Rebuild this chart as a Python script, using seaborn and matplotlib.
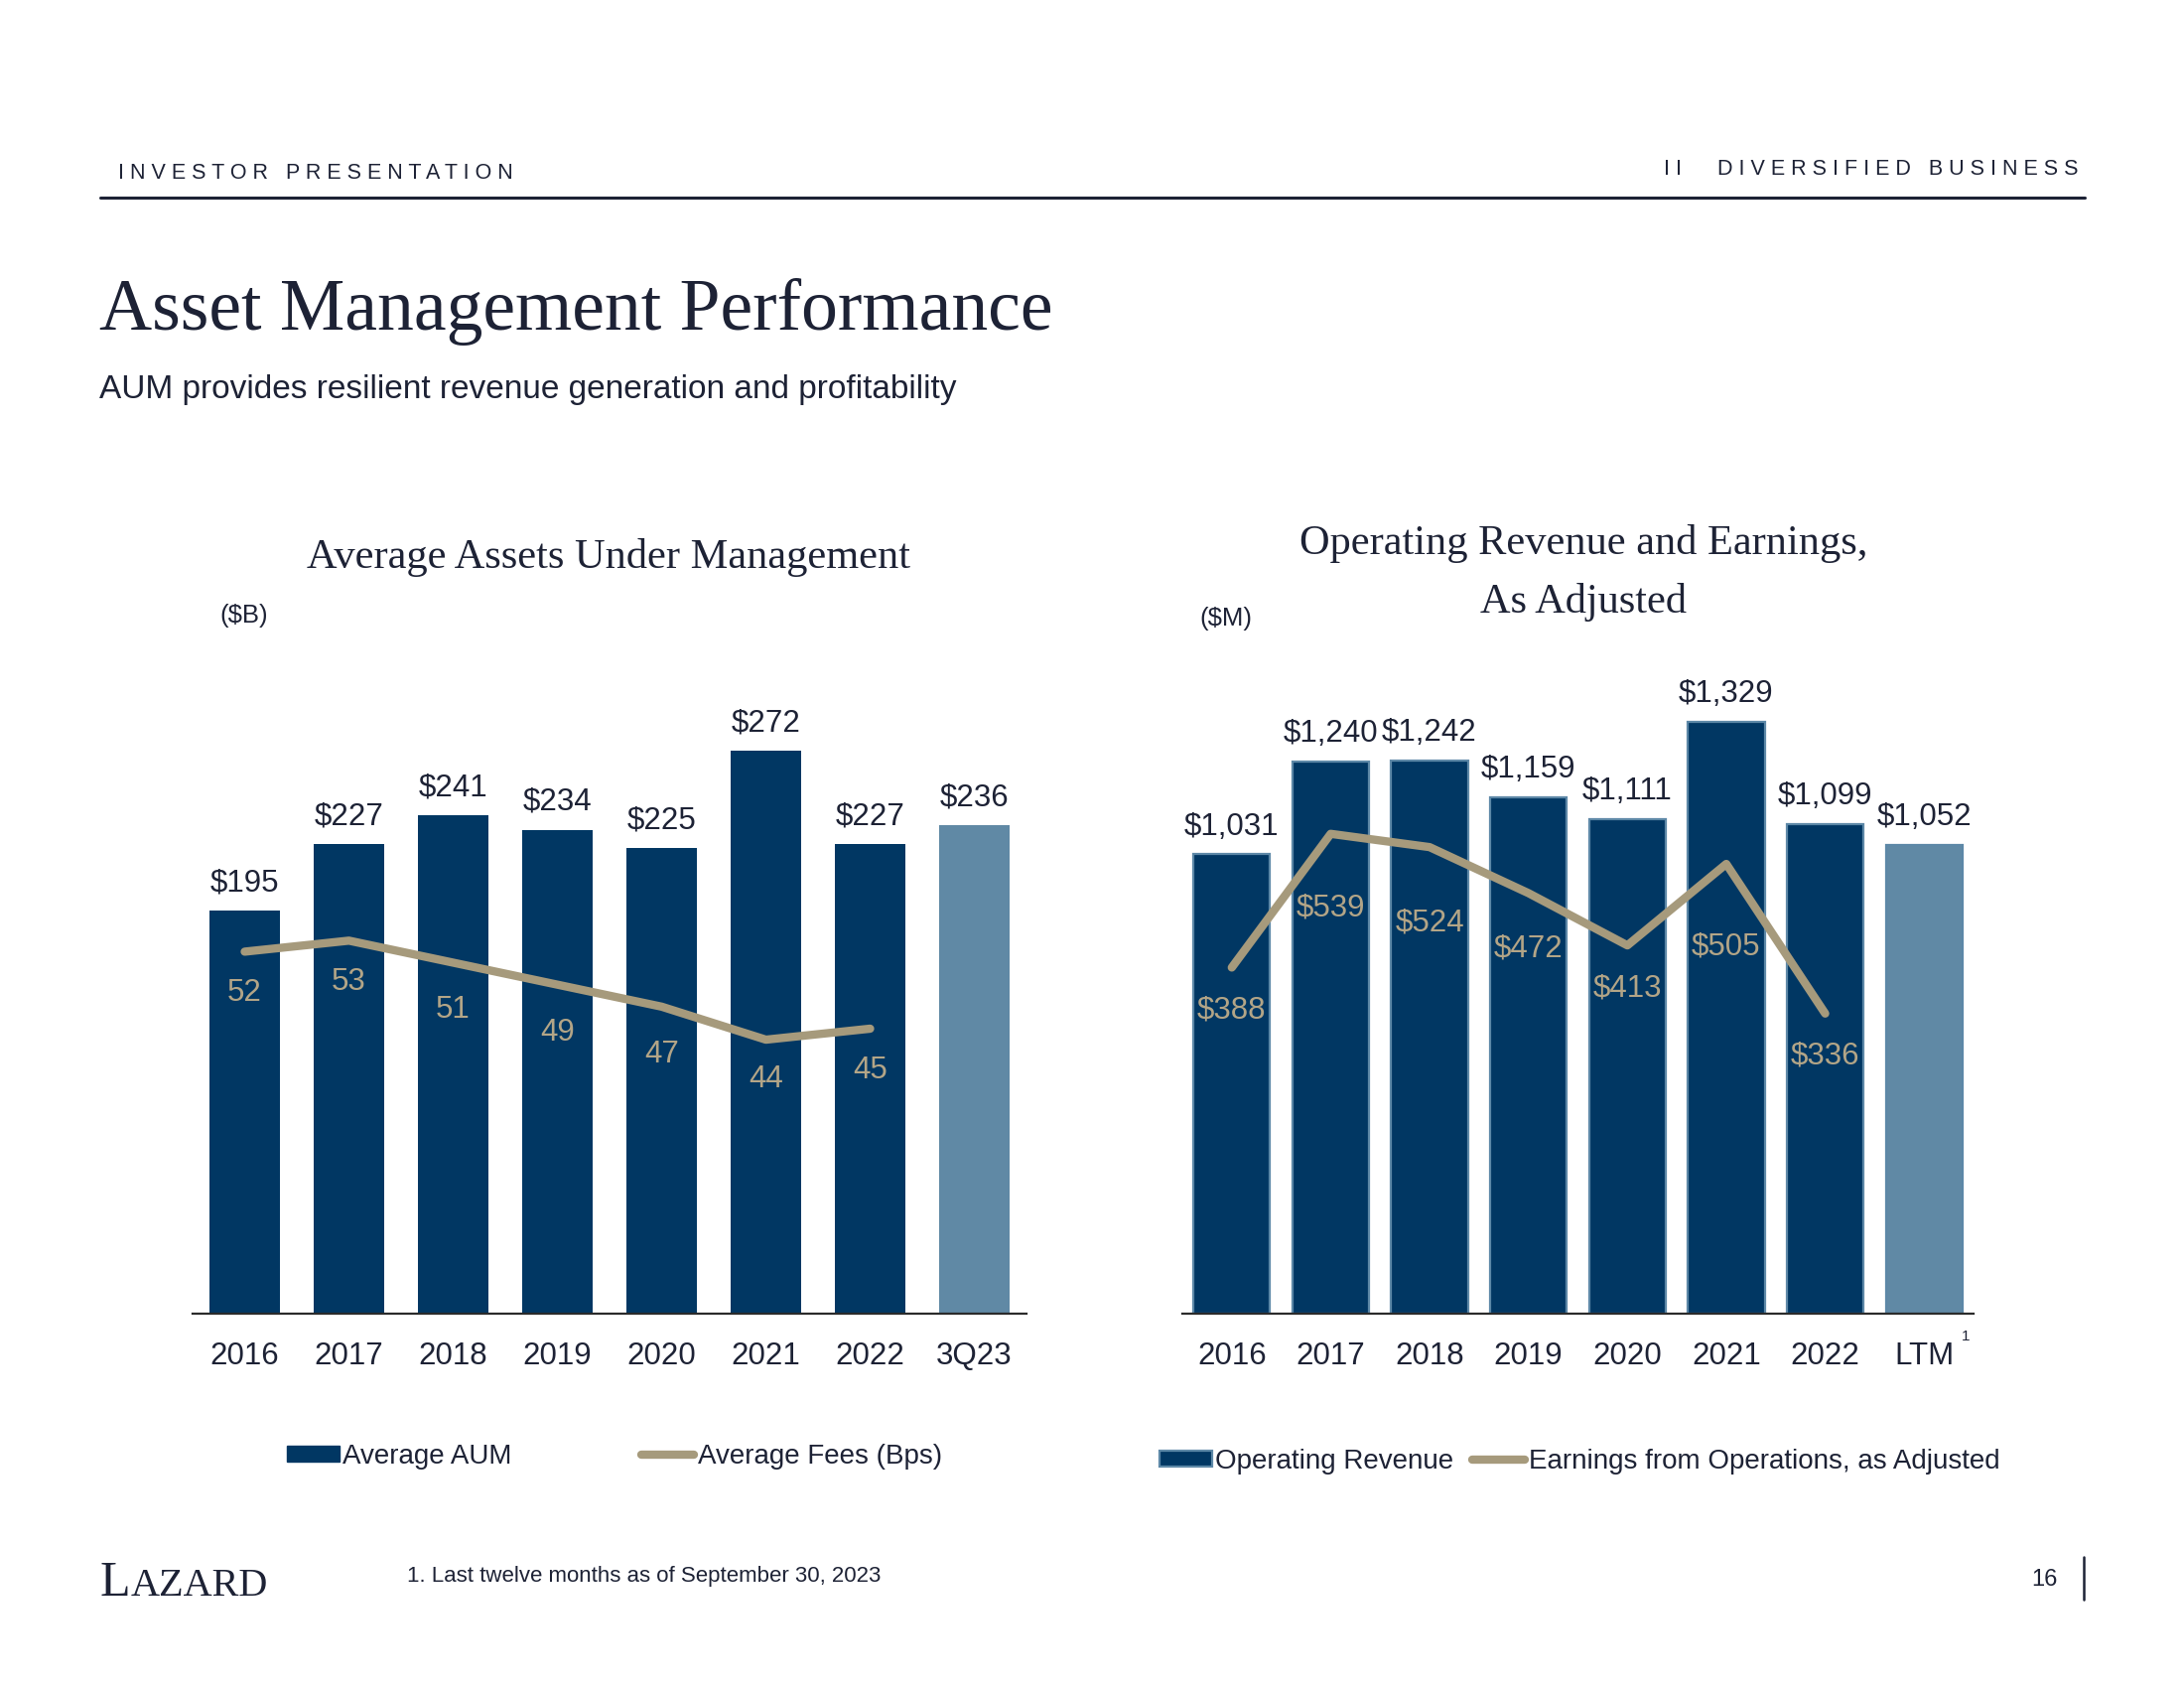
import numpy as np
import matplotlib
matplotlib.use("Agg")
import matplotlib.pyplot as plt
import seaborn as sns
from matplotlib.patches import Patch
from matplotlib.lines import Line2D

# Left panel: average AUM ($B) and average fees (bps)
aum_years = ["2016", "2017", "2018", "2019", "2020", "2021", "2022", "3Q23"]
avg_aum = [195, 227, 241, 234, 225, 272, 227, 236]
avg_fees = [52, 53, 51, 49, 47, 44, 45]

# Right panel: operating revenue and earnings ($M)
rev_years = ["2016", "2017", "2018", "2019", "2020", "2021", "2022", "LTM"]
op_revenue = [1031, 1240, 1242, 1159, 1111, 1329, 1099, 1052]
op_earnings = [388, 539, 524, 472, 413, 505, 336]

# label offsets below the line (points)
fees_dy = [30, 30, 34, 35, 35, 29, 30]
earn_dy = [31, 54, 55, 40, 31, 60, 31]

NAVY = "#013763"
LIGHT = "#6089a5"
EDGE = "#5d88a7"
TAN = "#a69a7c"
TAN_TXT = "#b3a587"
INK = "#1d2235"

sns.set_theme(style="white")
plt.rcParams['font.family'] = ['Liberation Sans', 'DejaVu Sans']
SERIF = ['Liberation Serif', 'DejaVu Serif']

W, H = 2200, 1700
fig = plt.figure(figsize=(22, 17), dpi=100)
fig.patch.set_facecolor("white")


def fx(px):
    return px / W


def fy(py):
    return 1 - py / H


def panel(rect, cats, bars, line, ylim, ylim2, width, edge, line_fmt, dys):
    ax = fig.add_axes(rect)
    pal = [NAVY] * (len(cats) - 1) + [LIGHT]
    sns.barplot(x=cats, y=bars, hue=cats, palette=pal, legend=False, saturation=1,
                width=width, ax=ax, edgecolor=edge, linewidth=1.6 if edge else 0)
    for c, v in zip(ax.containers, bars):
        ax.bar_label(c, labels=[f"${v:,}"], padding=9, fontsize=22.5, color=INK)
    ax.set_xlim(-0.5, len(cats) - 0.5)
    ax.set_ylim(*ylim)
    ax.set_yticks([])
    ax.set_xlabel("")
    ax.set_ylabel("")
    ax.tick_params(axis="x", length=0, pad=20, labelsize=22.5, labelcolor=INK)
    sns.despine(ax=ax, left=True)
    ax.spines["bottom"].set_color("#2b2b2b")
    ax.spines["bottom"].set_linewidth(1.6)
    ax.patch.set_alpha(0)

    ax2 = ax.twinx()
    sns.lineplot(x=np.arange(len(line)), y=line, ax=ax2, color=TAN, linewidth=6,
                 solid_capstyle="round")
    ax2.set_ylim(*ylim2)
    ax2.set_axis_off()
    for i, (v, d) in enumerate(zip(line, dys)):
        ax2.annotate(line_fmt(v), (i, v), xytext=(0, -d), textcoords="offset points",
                     ha="center", va="center", fontsize=22.5, color=TAN_TXT)
    return ax, ax2


bot = fy(1323)
hgt = 625 / H
axL, _ = panel([fx(194), bot, fx(1034) - fx(194), hgt], aum_years, avg_aum, avg_fees,
               (0, 300), (19.1, 75.5), 0.667, None, lambda v: f"{v}", fees_dy)
axR, _ = panel([fx(1191), bot, fx(1988) - fx(1191), hgt], rev_years, op_revenue, op_earnings,
               (0, 1393), (-3, 698), 0.775, EDGE, lambda v: f"${v}", earn_dy)

# legends
legL = axL.legend(handles=[Patch(facecolor=NAVY, edgecolor=NAVY),
                           Line2D([], [], color=TAN, lw=6, solid_capstyle="round")],
                  labels=["Average AUM", "Average Fees (Bps)"], ncol=2, frameon=False,
                  loc="center", bbox_to_anchor=(fx(619), fy(1467)), bbox_transform=fig.transFigure,
                  fontsize=20, handlelength=1.9, handleheight=0.5, handletextpad=0.12,
                  columnspacing=4.7, labelcolor=INK)
legR = axR.legend(handles=[Patch(facecolor=NAVY, edgecolor=EDGE, linewidth=1.6),
                           Line2D([], [], color=TAN, lw=6, solid_capstyle="round")],
                  labels=["Operating Revenue", "Earnings from Operations, as Adjusted"], ncol=2,
                  frameon=False, loc="center", bbox_to_anchor=(fx(1591), fy(1472)),
                  bbox_transform=fig.transFigure, fontsize=20, handlelength=1.9,
                  handleheight=0.5, handletextpad=0.12, columnspacing=0.7, labelcolor=INK)

# header
fig.text(fx(119), fy(174), "I N V E S T O R   P R E S E N T A T I O N", fontsize=15.5,
         color=INK, va="center", ha="left")
fig.text(fx(2093), fy(170), "I I      D I V E R S I F I E D   B U S I N E S S", fontsize=15.5,
         color=INK, va="center", ha="right")
fig.add_artist(Line2D([fx(101), fx(2100)], [fy(199), fy(199)], transform=fig.transFigure,
                      color=INK, lw=2.2))
fig.text(fx(100), fy(314), "Asset Management Performance", family=SERIF, fontsize=53,
         color=INK, va="center", ha="left")
fig.text(fx(100), fy(392), "AUM provides resilient revenue generation and profitability",
         fontsize=24, color=INK, va="center", ha="left")

# panel titles
fig.text(fx(613), fy(561), "Average Assets Under Management", family=SERIF, fontsize=30.5,
         color=INK, ha="center", va="center")
fig.text(fx(1595), fy(548), "Operating Revenue and Earnings,", family=SERIF, fontsize=30.5,
         color=INK, ha="center", va="center")
fig.text(fx(1595), fy(607), "As Adjusted", family=SERIF, fontsize=30.5,
         color=INK, ha="center", va="center")
fig.text(fx(246), fy(620), "($B)", fontsize=18.5, color=INK, ha="center", va="center")
fig.text(fx(1235), fy(623), "($M)", fontsize=18.5, color=INK, ha="center", va="center")
fig.text(fx(1980), fy(1346), "1", fontsize=11, color=INK, ha="center", va="center")

# footer
fig.text(fx(410), fy(1587), "1. Last twelve months as of September 30, 2023", fontsize=16,
         color=INK, ha="left", va="center")
fig.text(fx(2073), fy(1591), "16", fontsize=17, color=INK, ha="right", va="center")
fig.add_artist(Line2D([fx(2099), fx(2099)], [fy(1568), fy(1611)], transform=fig.transFigure,
                      color=INK, lw=1.8))
tl = fig.text(fx(101), fy(1607), "L", family=SERIF, fontsize=36, color=INK,
              ha="left", va="baseline")
fig.canvas.draw()
bb = tl.get_window_extent(fig.canvas.get_renderer())
fig.text(bb.x1 / W, fy(1607), "AZARD", family=SERIF, fontsize=29, color=INK,
         ha="left", va="baseline")

fig.savefig("out.png", dpi=100, facecolor="white")
